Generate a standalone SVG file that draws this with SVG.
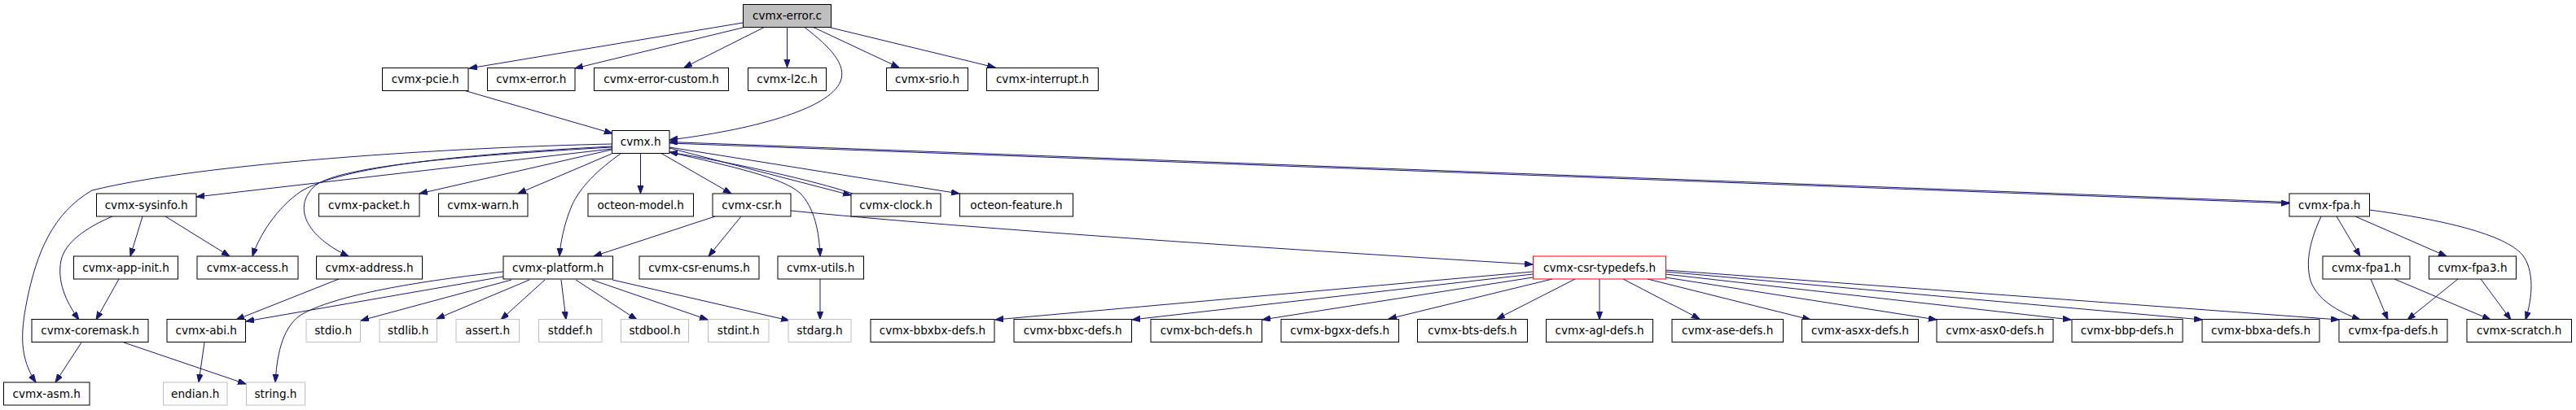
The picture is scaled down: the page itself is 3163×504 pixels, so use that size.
<svg xmlns="http://www.w3.org/2000/svg" width="3163" height="504" viewBox="0 0 3163 504">
<style>
rect{fill:#fff;stroke:#000;stroke-width:1}
.root rect{fill:#bfbfbf}
.grey rect{stroke:#bfbfbf}
.red rect{stroke:#ff0000}
text{font-family:"DejaVu Sans","Liberation Sans",sans-serif;font-size:13.6px;text-anchor:middle;fill:#000}
#edges path{fill:none;stroke:#191970;stroke-width:1;marker-end:url(#a)}
</style>
<defs>
<marker id="a" markerWidth="11" markerHeight="8" refX="10" refY="3.6" orient="auto" markerUnits="userSpaceOnUse">
<path d="M0,0 L10,3.6 L0,7.2 Z" fill="#191970" stroke="#191970" stroke-width="1"/>
</marker>
</defs>
<rect x="0" y="0" width="3163" height="504" style="fill:#fff;stroke:none"/>
<g id="edges">
<path d="M912,28 L576,84"/>
<path d="M914,33.5 L706,84"/>
<path d="M938,33.7 L840,83"/>
<path d="M966.5,33.7 L966.5,83"/>
<path d="M988,33.7 C1020,58 1040,80 1032,100 C1018,135 920,160 822,172"/>
<path d="M999,33.7 L1104,83"/>
<path d="M1020,34 L1222,83"/>
<path d="M571,111.5 L752,164"/>
<path d="M751,177 C560,181 250,200 113,234 C65,262 45,310 33,370 C25,410 24,440 44,470"/>
<path d="M751,183 L241,242"/>
<path d="M751,180 C560,190 420,205 370,235 C340,255 318,290 310,315"/>
<path d="M751,181 C560,192 410,205 385,230 C360,255 375,290 428,315"/>
<path d="M751,184 L515,238"/>
<path d="M751,189 L636,238"/>
<path d="M762,189 C735,208 712,230 702,253 C692,277 688,300 687,315"/>
<path d="M786.5,188.5 L786.5,238"/>
<path d="M812,188.5 L898,238"/>
<path d="M822,187 C900,205 960,218 982,237 C1000,255 1006,285 1007,315"/>
<path d="M822,182 L1045,240"/>
<path d="M1047,238 C1000,222 900,200 822,187"/>
<path d="M822,181 L1178,238"/>
<path d="M822,176 L2811,250"/>
<path d="M2811,248.5 L822,174.5"/>
<path d="M971,259 C1200,282 1600,308 1882,325"/>
<path d="M138,266 C105,280 80,298 75,320 C70,345 80,370 97,393"/>
<path d="M175,266 L160,315"/>
<path d="M203,266 L282,315"/>
<path d="M146,343 L118,393"/>
<path d="M100,421 L68,470"/>
<path d="M152,421 L302,472"/>
<path d="M251,421 L244,470"/>
<path d="M416,343 L290,393"/>
<path d="M618,340 L302,395"/>
<path d="M618,334 C520,345 410,362 368,388 C345,405 340,440 338,470"/>
<path d="M628,344 L443,394"/>
<path d="M650,344 L536,392"/>
<path d="M669,344 L615,393"/>
<path d="M689,344 L695,393"/>
<path d="M707,344 L782,393"/>
<path d="M727,344 L869,393"/>
<path d="M752,344 L969,394"/>
<path d="M878,266 L729,315"/>
<path d="M910,266 L870,315"/>
<path d="M1007,343 L1007,393"/>
<path d="M1882,334 L1222,393"/>
<path d="M1882,337 L1390,393"/>
<path d="M1882,341 L1550,393"/>
<path d="M1906,343 L1705,392"/>
<path d="M1934,343 L1838,392"/>
<path d="M1964,343 L1964,393"/>
<path d="M1993,343 L2087,392"/>
<path d="M2023,343 L2223,393"/>
<path d="M2045,341 L2378,393"/>
<path d="M2045,337 L2543,393"/>
<path d="M2045,334 L2704,393"/>
<path d="M2045,332 L2872,393"/>
<path d="M2850,266 C2838,292 2830,320 2837,345 C2845,368 2870,383 2898,393"/>
<path d="M2869,266 L2898,315"/>
<path d="M2892,266 L3004,315"/>
<path d="M2909,258 C3000,270 3075,288 3097,313 C3112,332 3110,365 3101,393"/>
<path d="M2911,343 L2932,393"/>
<path d="M2940,343 L3058,393"/>
<path d="M3018,343 L2956,393"/>
<path d="M3046,343 L3083,393"/>
</g>
<g id="cvmx-error-c" class="root"><rect x="912.5" y="5.5" width="108" height="28"/><text x="966.5" y="24.2">cvmx-error.c</text></g>
<g id="cvmx-pcie-h"><rect x="469.5" y="83.5" width="105.5" height="28"/><text x="522.3" y="102.2">cvmx-pcie.h</text></g>
<g id="cvmx-error-h"><rect x="598.5" y="83.5" width="107.5" height="28"/><text x="652.3" y="102.2">cvmx-error.h</text></g>
<g id="cvmx-error-custom-h"><rect x="729.5" y="83.5" width="165" height="28"/><text x="812" y="102.2">cvmx-error-custom.h</text></g>
<g id="cvmx-l2c-h"><rect x="918.5" y="83.5" width="96" height="28"/><text x="966.5" y="102.2">cvmx-l2c.h</text></g>
<g id="cvmx-srio-h"><rect x="1088.5" y="83.5" width="100" height="28"/><text x="1138.5" y="102.2">cvmx-srio.h</text></g>
<g id="cvmx-interrupt-h"><rect x="1211.5" y="83.5" width="137" height="28"/><text x="1280" y="102.2">cvmx-interrupt.h</text></g>
<g id="cvmx-h"><rect x="751.5" y="160.5" width="70.5" height="28"/><text x="786.7" y="179.2">cvmx.h</text></g>
<g id="cvmx-sysinfo-h"><rect x="118.5" y="238" width="122.5" height="28"/><text x="179.7" y="256.7">cvmx-sysinfo.h</text></g>
<g id="cvmx-packet-h"><rect x="391.5" y="238" width="123.5" height="28"/><text x="453.2" y="256.7">cvmx-packet.h</text></g>
<g id="cvmx-warn-h"><rect x="538.5" y="238" width="109.5" height="28"/><text x="593.2" y="256.7">cvmx-warn.h</text></g>
<g id="octeon-model-h"><rect x="722" y="238" width="129.5" height="28"/><text x="786.7" y="256.7">octeon-model.h</text></g>
<g id="cvmx-csr-h"><rect x="875" y="238" width="96" height="28"/><text x="923" y="256.7">cvmx-csr.h</text></g>
<g id="cvmx-clock-h"><rect x="1045" y="238" width="110" height="28"/><text x="1100" y="256.7">cvmx-clock.h</text></g>
<g id="octeon-feature-h"><rect x="1178.5" y="238" width="139" height="28"/><text x="1248" y="256.7">octeon-feature.h</text></g>
<g id="cvmx-fpa-h"><rect x="2811" y="238" width="98.5" height="28"/><text x="2860.2" y="256.7">cvmx-fpa.h</text></g>
<g id="cvmx-app-init-h"><rect x="90.5" y="315" width="128" height="28"/><text x="154.5" y="333.7">cvmx-app-init.h</text></g>
<g id="cvmx-access-h"><rect x="242" y="315" width="124" height="28"/><text x="304" y="333.7">cvmx-access.h</text></g>
<g id="cvmx-address-h"><rect x="388.5" y="315" width="130" height="28"/><text x="453.5" y="333.7">cvmx-address.h</text></g>
<g id="cvmx-platform-h"><rect x="618" y="315" width="134.5" height="28"/><text x="685.2" y="333.7">cvmx-platform.h</text></g>
<g id="cvmx-csr-enums-h"><rect x="785" y="315" width="147" height="28"/><text x="858.5" y="333.7">cvmx-csr-enums.h</text></g>
<g id="cvmx-utils-h"><rect x="955" y="315" width="105.5" height="28"/><text x="1007.7" y="333.7">cvmx-utils.h</text></g>
<g id="cvmx-csr-typedefs-h" class="red"><rect x="1882.5" y="315" width="163" height="28"/><text x="1964" y="333.7">cvmx-csr-typedefs.h</text></g>
<g id="cvmx-fpa1-h"><rect x="2852" y="315" width="107" height="28"/><text x="2905.5" y="333.7">cvmx-fpa1.h</text></g>
<g id="cvmx-fpa3-h"><rect x="2982.5" y="315" width="107" height="28"/><text x="3036" y="333.7">cvmx-fpa3.h</text></g>
<g id="cvmx-coremask-h"><rect x="39" y="392.5" width="143" height="28"/><text x="110.5" y="411.2">cvmx-coremask.h</text></g>
<g id="cvmx-abi-h"><rect x="205" y="392.5" width="96.5" height="28"/><text x="253.2" y="411.2">cvmx-abi.h</text></g>
<g id="stdio-h" class="grey"><rect x="376" y="392.5" width="66.5" height="28"/><text x="409.2" y="411.2">stdio.h</text></g>
<g id="stdlib-h" class="grey"><rect x="466" y="392.5" width="70.5" height="28"/><text x="501.2" y="411.2">stdlib.h</text></g>
<g id="assert-h" class="grey"><rect x="560" y="392.5" width="77.5" height="28"/><text x="598.7" y="411.2">assert.h</text></g>
<g id="stddef-h" class="grey"><rect x="661.5" y="392.5" width="77.5" height="28"/><text x="700.2" y="411.2">stddef.h</text></g>
<g id="stdbool-h" class="grey"><rect x="762.5" y="392.5" width="83" height="28"/><text x="804" y="411.2">stdbool.h</text></g>
<g id="stdint-h" class="grey"><rect x="869.5" y="392.5" width="74.5" height="28"/><text x="906.7" y="411.2">stdint.h</text></g>
<g id="stdarg-h" class="grey"><rect x="968" y="392.5" width="77" height="28"/><text x="1006.5" y="411.2">stdarg.h</text></g>
<g id="cvmx-bbxbx-defs-h"><rect x="1069" y="392.5" width="152" height="28"/><text x="1145" y="411.2">cvmx-bbxbx-defs.h</text></g>
<g id="cvmx-bbxc-defs-h"><rect x="1245" y="392.5" width="144.5" height="28"/><text x="1317.2" y="411.2">cvmx-bbxc-defs.h</text></g>
<g id="cvmx-bch-defs-h"><rect x="1413" y="392.5" width="136.5" height="28"/><text x="1481.2" y="411.2">cvmx-bch-defs.h</text></g>
<g id="cvmx-bgxx-defs-h"><rect x="1573" y="392.5" width="144.5" height="28"/><text x="1645.2" y="411.2">cvmx-bgxx-defs.h</text></g>
<g id="cvmx-bts-defs-h"><rect x="1740.5" y="392.5" width="135" height="28"/><text x="1808" y="411.2">cvmx-bts-defs.h</text></g>
<g id="cvmx-agl-defs-h"><rect x="1898.5" y="392.5" width="131" height="28"/><text x="1964" y="411.2">cvmx-agl-defs.h</text></g>
<g id="cvmx-ase-defs-h"><rect x="2053" y="392.5" width="136.5" height="28"/><text x="2121.2" y="411.2">cvmx-ase-defs.h</text></g>
<g id="cvmx-asxx-defs-h"><rect x="2212.5" y="392.5" width="143" height="28"/><text x="2284" y="411.2">cvmx-asxx-defs.h</text></g>
<g id="cvmx-asx0-defs-h"><rect x="2378" y="392.5" width="143" height="28"/><text x="2449.5" y="411.2">cvmx-asx0-defs.h</text></g>
<g id="cvmx-bbp-defs-h"><rect x="2544" y="392.5" width="136" height="28"/><text x="2612" y="411.2">cvmx-bbp-defs.h</text></g>
<g id="cvmx-bbxa-defs-h"><rect x="2704" y="392.5" width="144" height="28"/><text x="2776" y="411.2">cvmx-bbxa-defs.h</text></g>
<g id="cvmx-fpa-defs-h"><rect x="2872" y="392.5" width="133" height="28"/><text x="2938.5" y="411.2">cvmx-fpa-defs.h</text></g>
<g id="cvmx-scratch-h"><rect x="3029" y="392.5" width="128.5" height="28"/><text x="3093.2" y="411.2">cvmx-scratch.h</text></g>
<g id="cvmx-asm-h"><rect x="4.5" y="470" width="105.5" height="28"/><text x="57.2" y="488.7">cvmx-asm.h</text></g>
<g id="endian-h" class="grey"><rect x="200.5" y="470" width="78.5" height="28"/><text x="239.7" y="488.7">endian.h</text></g>
<g id="string-h" class="grey"><rect x="302.5" y="470" width="72" height="28"/><text x="338.5" y="488.7">string.h</text></g>
</svg>
